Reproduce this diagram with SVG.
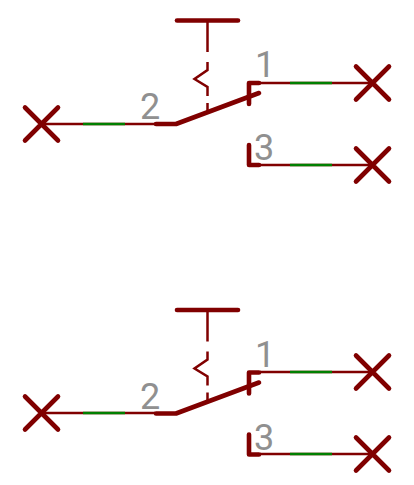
<svg xmlns="http://www.w3.org/2000/svg" width="414" height="485" viewBox="0 0 414 485">
<style>
.t{fill:none;stroke:#800000;stroke-width:4.600;stroke-linecap:round;stroke-linejoin:round}
.s{fill:none;stroke:#800000;stroke-width:2.500;stroke-linecap:butt;stroke-linejoin:miter}
.w{fill:none;stroke:#800000;stroke-width:2.500}
.g{fill:none;stroke:#008000;stroke-width:2.500}
text{font-family:Roboto,"Liberation Sans",Arial,sans-serif;font-size:36px;fill:#8f8f8f;opacity:.99}
</style>
<defs>
<g id="x"><path class="t" d="M-16.500-16.500L16.500 16.500M-16.500 16.500L16.500-16.500"/></g>
<g id="sw">
<path class="s" d="M207.500 21V52M207.500 62V70L194.500 79L207.500 87V96M207.500 103V112"/>
<path class="t" d="M177 20.500H238"/>
<path class="t" d="M156 124H176L259 93"/>
<path class="t" d="M259 83H249V104"/>
<path class="t" d="M249 145V165H259"/>
</g>
</defs>
<g id="connectors">
<g id="wires-top">
<path class="w" d="M41 124H155M260 83H372M260 165H372"/>
<path class="g" d="M83 124H125M290 83H332M290 165H332"/>
</g>
<g id="wires-bottom" transform="translate(0 289)">
<path class="w" d="M41 124H155M260 83H372M260 165H372"/>
<path class="g" d="M83 124H125M290 83H332M290 165H332"/>
</g>
</g>
<g id="switch-top"><use href="#sw"/><text x="255" y="77">1</text><text x="140" y="119">2</text><text x="254" y="160">3</text></g>
<g id="switch-bottom" transform="translate(0 289.500)"><use href="#sw"/><text x="255" y="77">1</text><text x="140" y="119">2</text><text x="254" y="160">3</text></g>
<g id="x-top-left"><use href="#x" x="41.500" y="124"/></g>
<g id="x-top-1"><use href="#x" x="372.500" y="83"/></g>
<g id="x-top-3"><use href="#x" x="372.500" y="165"/></g>
<g id="x-bottom-left"><use href="#x" x="41.500" y="413"/></g>
<g id="x-bottom-1"><use href="#x" x="372.500" y="372"/></g>
<g id="x-bottom-3"><use href="#x" x="372.500" y="454"/></g>
</svg>
